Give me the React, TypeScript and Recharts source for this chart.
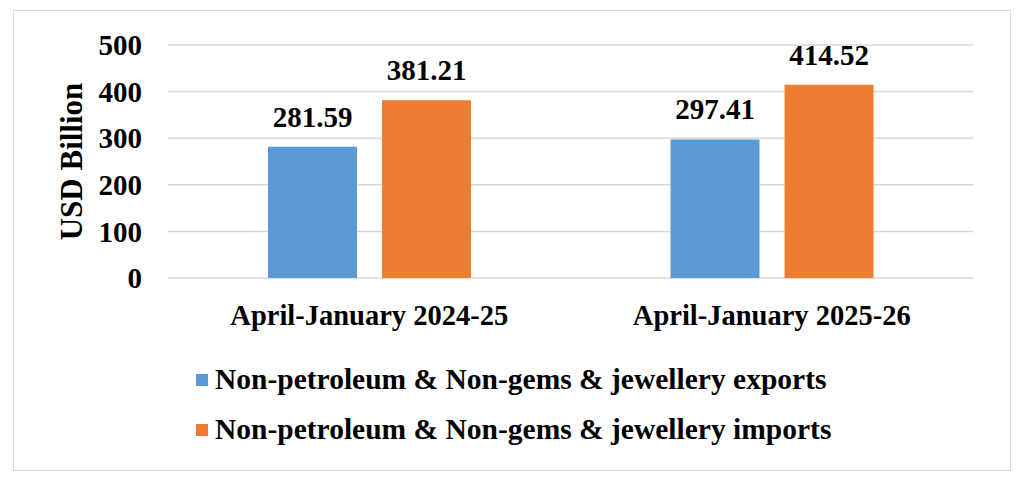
import { BarChart, Bar, XAxis, YAxis, CartesianGrid, LabelList } from 'recharts';

const periods = ['April-January 2024-25', 'April-January 2025-26'];
const exportsVals = [281.59, 297.41];
const importsVals = [381.21, 414.52];
const yTicks = [0, 100, 200, 300, 400, 500];

const series = [
  { key: 'exports', name: 'Non-petroleum & Non-gems & jewellery exports', color: '#5B9BD5' },
  { key: 'imports', name: 'Non-petroleum & Non-gems & jewellery imports', color: '#ED7D31' },
];

const data = periods.map((p, i) => ({ period: p, exports: exportsVals[i], imports: importsVals[i] }));

const font = '"Liberation Serif", "Times New Roman", serif';

// legend drawn as plain html below the plot
const LegendBox = () => (
  <div style={{ fontFamily: font, fontWeight: 'bold', fontSize: 29.5, color: '#000', lineHeight: 1 }}>
    {series.map((s) => (
      <div key={s.key} style={{ display: 'flex', alignItems: 'center', height: 50 }}>
        <span style={{ width: 12, height: 12, background: s.color, marginRight: 7, display: 'inline-block' }} />
        {s.name}
      </div>
    ))}
  </div>
);

export default function App() {
  return (
    <div style={{ position: 'relative', width: 1024, height: 483, margin: -8, background: '#fff' }}>
      <div style={{ position: 'absolute', left: 13, top: 10, width: 996, height: 459, border: '1px solid #d9d9d9' }} />
      <div style={{ position: 'absolute', left: 0, top: 0 }}>
        <BarChart
          width={1024}
          height={483}
          data={data}
          margin={{ top: 45, right: 51, left: 0, bottom: 0 }}
          barGap={25}
          barSize={89}
        >
          <CartesianGrid vertical={false} stroke="#d9d9d9" strokeWidth={1.5} />
          <XAxis
            dataKey="period"
            height={205}
            axisLine={false}
            tickLine={false}
            tickSize={0}
            tickMargin={27}
            tick={{ fontFamily: font, fontWeight: 'bold', fontSize: 28.5, fill: '#000' }}
          />
          <YAxis
            width={168}
            domain={[0, 500]}
            ticks={yTicks}
            interval={0}
            axisLine={false}
            tickLine={false}
            tickSize={0}
            tickMargin={26}
            tick={{ fontFamily: font, fontWeight: 'bold', fontSize: 29, fill: '#000' }}
            label={{
              value: 'USD Billion',
              angle: -90,
              position: 'insideLeft',
              dx: 66,
              style: { fontFamily: font, fontWeight: 'bold', fontSize: 31, fill: '#000', textAnchor: 'middle' },
            }}
          />
          {series.map((s) => (
            <Bar key={s.key} dataKey={s.key} name={s.name} fill={s.color} isAnimationActive={false}>
              <LabelList
                dataKey={s.key}
                position="top"
                offset={20}
                style={{ fontFamily: font, fontWeight: 'bold', fontSize: 29, fill: '#000' }}
              />
            </Bar>
          ))}
        </BarChart>
      </div>
      <div style={{ position: 'absolute', left: 196, top: 355 }}>
        <LegendBox />
      </div>
    </div>
  );
}
